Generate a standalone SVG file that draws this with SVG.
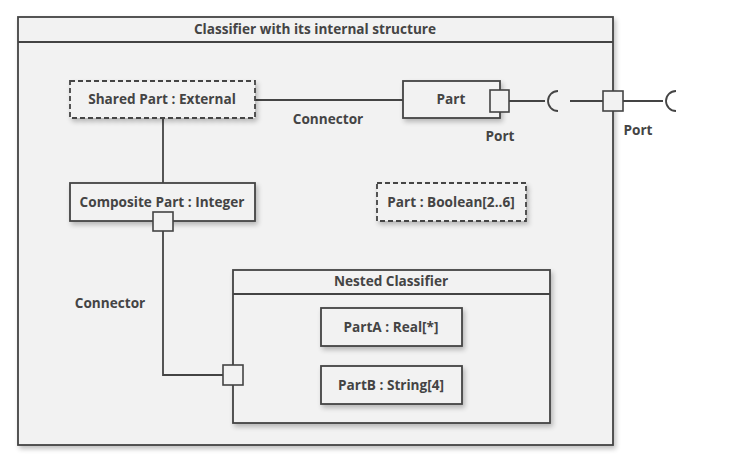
<svg xmlns="http://www.w3.org/2000/svg" width="736" height="465" viewBox="0 0 736 465">
<defs>
<filter id="sh" x="-20%" y="-20%" width="150%" height="160%">
<feGaussianBlur in="SourceAlpha" stdDeviation="2.5"/>
<feOffset dx="2" dy="3" result="b"/>
<feComponentTransfer><feFuncA type="linear" slope="0.25"/></feComponentTransfer>
<feMerge><feMergeNode/><feMergeNode in="SourceGraphic"/></feMerge>
</filter>
</defs>
<style>
text{font-family:"Open Sans","Noto Sans","DejaVu Sans",sans-serif;font-weight:700;font-size:13.6px;fill:#444;text-anchor:middle}
.box{fill:#f2f2f2;stroke:#444;stroke-width:1.8}
.dash{fill:#f2f2f2;stroke:#444;stroke-width:1.8;stroke-dasharray:5,3}
.ln{fill:none;stroke:#444;stroke-width:1.8}
.port{fill:#f2f2f2;stroke:#444;stroke-width:1.6}
</style>
<rect width="736" height="465" fill="#fff"/>
<g id="frame">
<rect class="box" x="18" y="17" width="595" height="428" filter="url(#sh)"/>
<line class="ln" x1="18" y1="42" x2="613" y2="42"/>
<text x="315" y="34">Classifier with its internal structure</text>
</g>
<g id="connectors">
<line class="ln" x1="255" y1="100" x2="403" y2="100"/>
<line class="ln" x1="163" y1="118" x2="163" y2="183"/>
<polyline class="ln" points="163,231 163,375 223,375"/>
<line class="ln" x1="509" y1="101" x2="545" y2="101"/>
<path class="ln" d="M558,91 A10,10 0 0 0 558,111"/>
<line class="ln" x1="570" y1="101" x2="603" y2="101"/>
<line class="ln" x1="623" y1="101" x2="663" y2="101"/>
<path class="ln" d="M676,91 A10,10 0 0 0 676,111"/>
<text x="328" y="124">Connector</text>
<text x="110" y="308">Connector</text>
</g>
<g id="shared-part">
<rect class="dash" x="70" y="81" width="185" height="37" filter="url(#sh)"/>
<text x="162" y="104">Shared Part : External</text>
</g>
<g id="part">
<rect class="box" x="403" y="81" width="97" height="37" filter="url(#sh)"/>
<text x="451" y="104">Part</text>
<rect class="port" x="490" y="90" width="19" height="22"/>
<text x="500" y="141">Port</text>
</g>
<g id="outer-port">
<rect class="port" x="603" y="91" width="20" height="20"/>
<text x="638" y="135">Port</text>
</g>
<g id="composite-part">
<rect class="box" x="70" y="183" width="185" height="38" filter="url(#sh)"/>
<text x="162" y="207">Composite Part : Integer</text>
<rect class="port" x="153" y="212" width="20" height="19"/>
</g>
<g id="boolean-part">
<rect class="dash" x="377" y="183" width="149" height="38" filter="url(#sh)"/>
<text x="451" y="207">Part : Boolean[2..6]</text>
</g>
<g id="nested-classifier">
<rect class="box" x="233" y="270" width="317" height="153" filter="url(#sh)"/>
<line class="ln" x1="233" y1="294" x2="550" y2="294"/>
<text x="391" y="286">Nested Classifier</text>
<rect class="port" x="223" y="365" width="20" height="20"/>
</g>
<g id="partA">
<rect class="box" x="321" y="308" width="141" height="38" filter="url(#sh)"/>
<text x="391" y="332">PartA : Real[*]</text>
</g>
<g id="partB">
<rect class="box" x="321" y="366" width="141" height="38" filter="url(#sh)"/>
<text x="391" y="390">PartB : String[4]</text>
</g>
</svg>
